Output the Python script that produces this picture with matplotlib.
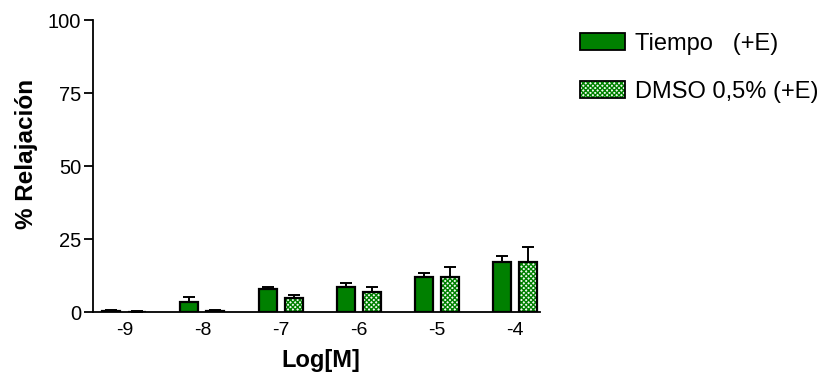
import matplotlib
matplotlib.use("Agg")
import matplotlib.pyplot as plt
from matplotlib.patches import Patch
import numpy as np

plt.rcParams['font.family'] = ['Liberation Sans', 'DejaVu Sans']
plt.rcParams['axes.unicode_minus'] = False
plt.rcParams['hatch.linewidth'] = 1.0

categories = [-9, -8, -7, -6, -5, -4]
tiempo = [0.5, 3.5, 7.8, 8.7, 12.0, 17.2]
tiempo_err = [0.3, 1.7, 0.9, 1.1, 1.4, 1.9]
dmso = [0.1, 0.5, 4.7, 6.7, 12.0, 17.2]
dmso_err = [0.1, 0.2, 1.3, 2.0, 3.3, 5.2]
labels = ['Tiempo   (+E)', 'DMSO 0,5% (+E)']
green = '#008000'
light = '#f2faf2'
hatch = 'xxxxxxx'

fig = plt.figure(figsize=(8.28, 3.73), dpi=100)
ax = fig.add_axes([0.1123, 0.1635, 0.54, 0.7825])
x = np.array(categories, dtype=float)
w = 0.23
off = 0.167

ax.bar(x - off, tiempo, w, color=green, edgecolor='black', linewidth=1.6, zorder=2)
ax.errorbar(x - off, tiempo, yerr=[np.zeros(len(tiempo)), tiempo_err], fmt='none',
            ecolor='black', elinewidth=1.4, capsize=4.5, capthick=1.4, zorder=1)

ax.bar(x + off, dmso, w, color=light, edgecolor=green, hatch=hatch, linewidth=0, zorder=2)
ax.bar(x + off, dmso, w, fill=False, edgecolor='black', linewidth=1.6, zorder=3)
ax.errorbar(x + off, dmso, yerr=[np.zeros(len(dmso)), dmso_err], fmt='none',
            ecolor='black', elinewidth=1.4, capsize=4.5, capthick=1.4, zorder=1)

ax.set_xlim(-9.40, -3.68)
ax.set_ylim(0, 100)
ax.set_yticks([0, 25, 50, 75, 100])
ax.set_xticks(categories)
ax.set_xticklabels([str(c) for c in categories])
for s in ['top', 'right']:
    ax.spines[s].set_visible(False)
for s in ['left', 'bottom']:
    ax.spines[s].set_linewidth(1.3)
ax.tick_params(axis='y', labelsize=14.5, width=1.3, length=6.5, pad=2, direction='out')
ax.tick_params(axis='x', labelsize=14, length=0, pad=7)
ax.set_ylabel('% Relajación', fontsize=17.5, fontweight='bold')
ax.set_xlabel('Log[M]', fontsize=17, fontweight='bold')
ax.yaxis.set_label_coords(-0.122, 0.54)
ax.xaxis.set_label_coords(0.51, -0.128)

h1 = Patch(facecolor=green, edgecolor='black', linewidth=1.3)
h2 = Patch(facecolor=light, edgecolor=green, hatch=hatch, linewidth=0)
h2b = Patch(fill=False, edgecolor='black', linewidth=1.3)
fig.legend([h1, (h2, h2b)], labels, loc='upper left', bbox_to_anchor=(580/828, 1 - 33/373),
           frameon=False, fontsize=17, handlelength=1.9, handleheight=0.72,
           labelspacing=1.1, handletextpad=0.42, borderpad=0, borderaxespad=0)

fig.savefig('out.png', dpi=100)
